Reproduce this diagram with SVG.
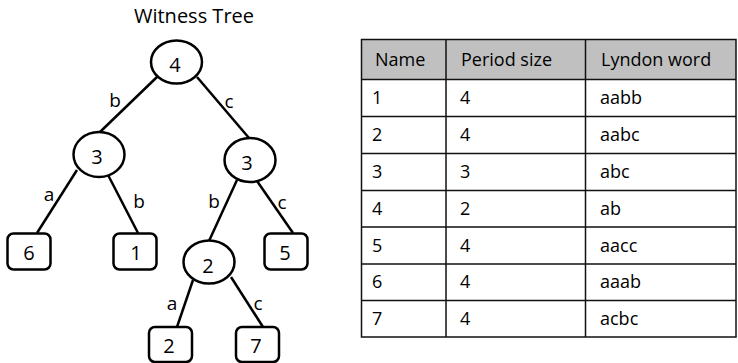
<svg xmlns="http://www.w3.org/2000/svg" width="738" height="363" viewBox="0 0 738 363">
  <style>
    text { font-family: "Open Sans", "Liberation Sans", sans-serif; fill: #000; }
    .title { font-size: 20px; text-anchor: middle; }
    .num { font-size: 20px; text-anchor: middle; dominant-baseline: central; }
    .lbl { font-size: 19px; text-anchor: middle; dominant-baseline: central; }
    .inner { fill: #fff; stroke: #000; stroke-width: 2.5; }
    .leaf { fill: #fff; stroke: #000; stroke-width: 2.5; }
    .edge { stroke: #000; stroke-width: 2.5; fill: none; }
    .cell { font-size: 18px; }
    .grid { stroke: #111; stroke-width: 1.5; fill: none; }
  </style>

  <text class="title" x="194" y="23">Witness Tree</text>

  <!-- tree edges with their letters -->
  <g id="edges">
    <line class="edge" x1="157" y1="77" x2="100" y2="132"/>
    <line class="edge" x1="197" y1="77" x2="249" y2="138"/>
    <line class="edge" x1="77" y1="170" x2="37" y2="233"/>
    <line class="edge" x1="107" y1="173" x2="138" y2="233"/>
    <line class="edge" x1="237" y1="180" x2="209" y2="241"/>
    <line class="edge" x1="257" y1="181" x2="293" y2="233"/>
    <line class="edge" x1="193" y1="280" x2="177" y2="327"/>
    <line class="edge" x1="231" y1="277" x2="263" y2="327"/>
    <text class="lbl" x="115" y="100">b</text>
    <text class="lbl" x="229" y="101">c</text>
    <text class="lbl" x="49" y="194">a</text>
    <text class="lbl" x="139" y="201">b</text>
    <text class="lbl" x="214" y="201">b</text>
    <text class="lbl" x="282" y="202">c</text>
    <text class="lbl" x="172" y="303">a</text>
    <text class="lbl" x="258" y="303">c</text>
  </g>

  <!-- internal nodes -->
  <g id="root">
    <ellipse class="inner" cx="176.5" cy="62" rx="25.5" ry="21.5"/>
    <text class="num" x="175" y="64">4</text>
  </g>
  <g id="left3">
    <ellipse class="inner" cx="99" cy="154.5" rx="25.5" ry="22.5"/>
    <text class="num" x="97" y="156">3</text>
  </g>
  <g id="right3">
    <ellipse class="inner" cx="250" cy="160" rx="25.5" ry="22"/>
    <text class="num" x="247" y="162">3</text>
  </g>
  <g id="mid2">
    <ellipse class="inner" cx="209" cy="262" rx="25.5" ry="21.5"/>
    <text class="num" x="208" y="265">2</text>
  </g>

  <!-- leaves -->
  <g id="leaf6">
    <rect class="leaf" x="7.5" y="233.5" width="43" height="36" rx="6"/>
    <text class="num" x="29" y="252">6</text>
  </g>
  <g id="leaf1">
    <rect class="leaf" x="113.5" y="233.5" width="43" height="36" rx="6"/>
    <text class="num" x="136" y="252">1</text>
  </g>
  <g id="leaf5">
    <rect class="leaf" x="264.5" y="233.5" width="43" height="36" rx="6"/>
    <text class="num" x="285" y="252">5</text>
  </g>
  <g id="leaf2">
    <rect class="leaf" x="149" y="327" width="43" height="35" rx="6"/>
    <text class="num" x="169" y="345">2</text>
  </g>
  <g id="leaf7">
    <rect class="leaf" x="236" y="327" width="43" height="35" rx="6"/>
    <text class="num" x="256" y="345">7</text>
  </g>

  <!-- table -->
  <g id="table">
    <rect x="361.5" y="39.5" width="374.5" height="40" fill="#c0c0c0"/>
    <rect class="grid" x="361.5" y="39.5" width="374.5" height="297.5"/>
    <path class="grid" d="M361.5 79.5H736 M361.5 116.5H736 M361.5 153.5H736 M361.5 190.5H736 M361.5 227H736 M361.5 264H736 M361.5 300.5H736 M446 39.5V337 M585.5 39.5V337"/>
    <g class="cell">
      <text x="375" y="66">Name</text>
      <text x="461" y="66">Period size</text>
      <text x="601" y="66">Lyndon word</text>

      <text x="372" y="104">1</text><text x="460" y="104">4</text><text x="600" y="104">aabb</text>
      <text x="372" y="141">2</text><text x="460" y="141">4</text><text x="600" y="141">aabc</text>
      <text x="372" y="178">3</text><text x="460" y="178">3</text><text x="600" y="178">abc</text>
      <text x="372" y="215">4</text><text x="460" y="215">2</text><text x="600" y="215">ab</text>
      <text x="372" y="252">5</text><text x="460" y="252">4</text><text x="600" y="252">aacc</text>
      <text x="372" y="288">6</text><text x="460" y="288">4</text><text x="600" y="288">aaab</text>
      <text x="372" y="325">7</text><text x="460" y="325">4</text><text x="600" y="325">acbc</text>
    </g>
  </g>
</svg>
